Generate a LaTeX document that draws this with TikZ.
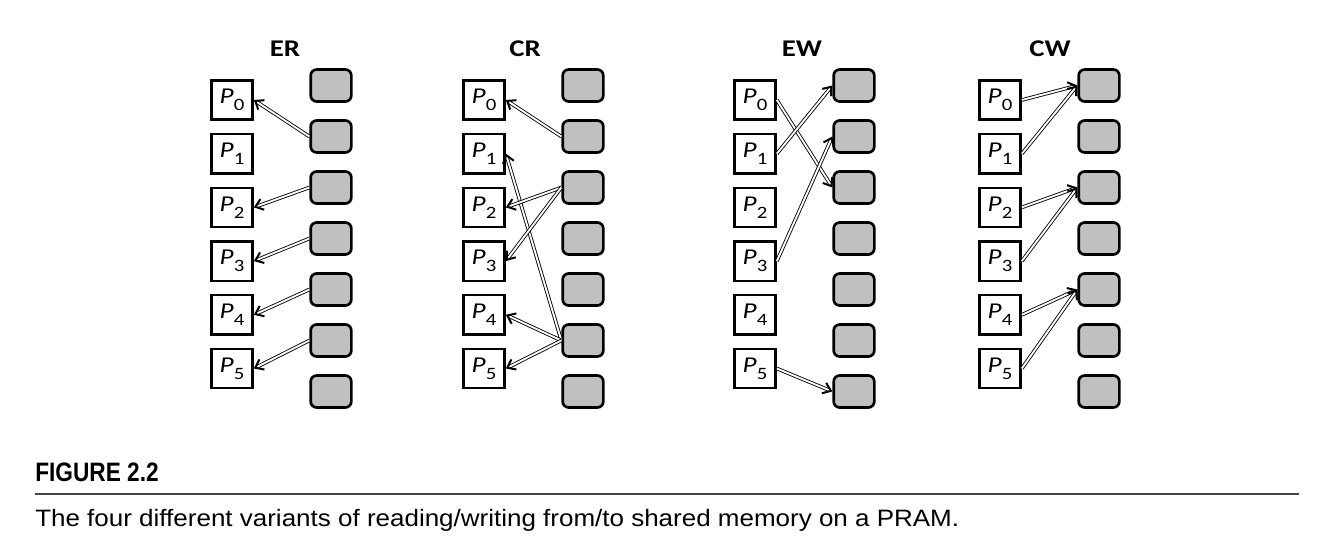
\documentclass[tikz,border=0pt]{standalone}
\usepackage{fontspec}
\setmainfont[FakeStretch=1.2]{Carlito}
\newfontfamily\capfont[FakeStretch=1.095]{Liberation Sans}
\newfontfamily\capheadfont[FakeStretch=0.85]{Liberation Sans}
\usepackage{xcolor}
\usepackage{tikz}
\usetikzlibrary{arrows.meta,positioning}
\definecolor{cellgray}{RGB}{192,192,192}
\definecolor{rulegray}{RGB}{70,70,70}
\newcommand{\pname}[1]{\textit{P}\raisebox{-5pt}{\fontsize{13}{13}\selectfont #1}}

\begin{document}
\begin{tikzpicture}[x=0.75pt, y=-0.75pt,
    proc/.style={rectangle, draw, line width=1.8pt, minimum width=31pt, minimum height=29.5pt, inner sep=0pt, font=\fontsize{17}{19}\selectfont},
    cell/.style={rectangle, draw, line width=2pt, rounded corners=4.5pt, fill=cellgray, minimum width=30.5pt, minimum height=24pt},
    title/.style={font=\bfseries\fontsize{18}{20}\selectfont, anchor=base},
    access/.style={double, double distance=1.4pt, line width=0.65pt, -{Straight Barb[length=5.5pt, width=8.5pt, line width=1.5pt]}}
]
\useasboundingbox (0,0) rectangle (1329,560);

% four panels: processors on the left, memory cells on the right
\foreach \pan/\lab/\px/\tx in {er/ER/232/285, cr/CR/484/525, ew/EW/755/802, cw/CW/1000/1050} {
  \node[title] (\pan-title) at (\tx,57) {\lab};
  \foreach \i in {0,...,5}
    \node[proc] (\pan-p\i) at (\px, 100+53.7*\i) {\pname{\i}};
  \foreach \j in {0,...,6}
    \node[cell] (\pan-m\j) at (\px+99, 85.5+51*\j) {};
}

% ER
\foreach \m/\p in {1/0, 2/2, 3/3, 4/4, 5/5}
  \draw[access] (er-m\m.west) -- (er-p\p.east);
% CR
\foreach \m/\p in {1/0, 5/1, 2/2, 2/3, 5/4, 5/5}
  \draw[access] (cr-m\m.west) -- (cr-p\p.east);
% EW
\foreach \p/\m in {0/2, 1/0, 3/1, 5/6}
  \draw[access] (ew-p\p.east) -- (ew-m\m.west);
% CW
\foreach \p/\m in {0/0, 1/0, 2/2, 3/2, 4/4, 5/4}
  \draw[access] (cw-p\p.east) -- (cw-m\m.west);

% caption
\node[anchor=base west, inner sep=0pt, font=\capheadfont\bfseries\fontsize{20}{24}\selectfont] (fighead) at (35,481.7) {FIGURE 2.2};
\draw[rulegray, line width=1.2pt] (35,494) -- (1299,494);
\node[anchor=base west, inner sep=0pt, font=\capfont\fontsize{17.8}{21}\selectfont] (figtext) at (35,526) {The four different variants of reading/writing from/to shared memory on a PRAM.};

\end{tikzpicture}
\end{document}
